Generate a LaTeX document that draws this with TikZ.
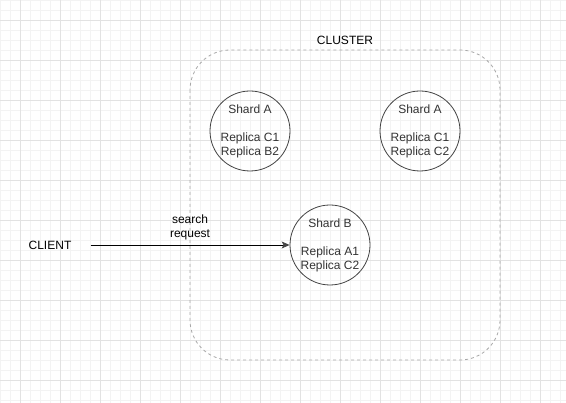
\documentclass[tikz,border=0pt]{standalone}
\usepackage{fontspec}
\setmainfont{Liberation Sans}
\usetikzlibrary{arrows.meta}
\definecolor{minorgrid}{HTML}{F3F3F3}
\definecolor{majorgrid}{HTML}{E2E2E2}
\definecolor{clusterline}{HTML}{A8A8A8}
\definecolor{shardline}{HTML}{444444}
\definecolor{shardtext}{HTML}{333333}
\begin{document}
\begin{tikzpicture}[x=1pt,y=-1pt,
  shard/.style={circle,draw=shardline,line width=0.8pt,minimum size=80pt,inner sep=0pt,
    text=shardtext,font=\fontsize{12}{14}\selectfont,align=center},
  lbl/.style={font=\fontsize{12}{14}\selectfont,inner sep=0pt}]
\useasboundingbox (0,0) rectangle (566,403);
\fill[white] (0,0) rectangle (566,403);
\draw[minorgrid,line width=0.6pt] (0,0) grid[step=10pt] (566,403);
\draw[majorgrid,line width=0.8pt,shift={(20,20)}] (-20,-20) grid[step=40pt] (546,383);
\draw[clusterline,dashed,dash pattern=on 3pt off 3pt,line width=0.8pt,rounded corners=40pt]
  (190,50) rectangle (500,360);
\node[lbl] (cluster) at (345,40) {CLUSTER};
\node[shard] (s1) at (250,131) {Shard A\\[14pt]Replica C1\\Replica B2};
\node[shard] (s2) at (420,131) {Shard A\\[14pt]Replica C1\\Replica C2};
\node[shard] (s3) at (330,245) {Shard B\\[14pt]Replica A1\\Replica C2};
\node[lbl] (client) at (50,245) {CLIENT};
\coordinate (cstart) at (90.5,245);
\draw[line width=0.8pt,-{Stealth[length=8pt,width=7pt,inset=2pt,color=shardline]},draw=black]
  (cstart) -- (s3.west) node[midway,above=5pt,lbl,align=center] (req) {search\\request};
\end{tikzpicture}
\end{document}
